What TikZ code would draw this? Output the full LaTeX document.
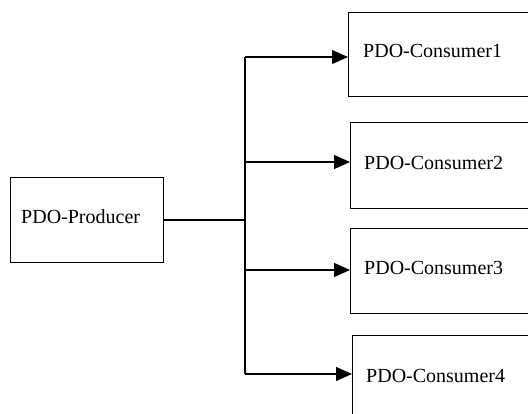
\documentclass[tikz,border=0pt]{standalone}
\usepackage{fontspec}
\setmainfont{Liberation Serif}
\newfontfamily\labelserif{Liberation Serif}
\usetikzlibrary{arrows.meta}
\tikzset{
  box/.style={draw, line width=1.1pt, rectangle, inner sep=0pt, anchor=north west},
  lbl/.style={anchor=base west, inner sep=0pt, font=\labelserif\fontsize{20}{24}\selectfont},
  wire/.style={line width=1.1pt},
  feed/.style={line width=1.1pt, -{Triangle[length=16pt,width=14pt]}},
}
\begin{document}
\begin{tikzpicture}[x=1pt, y=-1pt]
  \useasboundingbox (0,0) rectangle (528,414);
  \clip (0,0) rectangle (528,414);
  % producer
  \node[box, minimum width=153.5pt, minimum height=85pt] (prod) at (9.5,177) {};
  \node[lbl] (prodtxt) at (21,224) {PDO-Producer};
  % consumers (right edges run past the page)
  \node[box, minimum width=200pt, minimum height=84pt] (c1) at (348,12) {};
  \node[box, minimum width=200pt, minimum height=86pt] (c2) at (350,122) {};
  \node[box, minimum width=200pt, minimum height=85pt] (c3) at (350,228) {};
  \node[box, minimum width=200pt, minimum height=95pt] (c4) at (352,335) {};
  \node[lbl] (t1) at (363,58) {PDO-Consumer1};
  \node[lbl] (t2) at (364,170) {PDO-Consumer2};
  \node[lbl] (t3) at (364,275) {PDO-Consumer3};
  \node[lbl] (t4) at (366,383) {PDO-Consumer4};
  % distribution bus
  \coordinate (j) at (245,220);
  \coordinate (b1) at (245,57);
  \coordinate (b2) at (245,162);
  \coordinate (b3) at (245,270);
  \coordinate (b4) at (245,374);
  \draw[wire] (prod.east |- j) -- (j);
  \draw[wire] (b1) -- (b4);
  \draw[feed] (b1) -- (c1.west |- b1);
  \draw[feed] (b2) -- (c2.west |- b2);
  \draw[feed] (b3) -- (c3.west |- b3);
  \draw[feed] (b4) -- (c4.west |- b4);
\end{tikzpicture}
\end{document}
